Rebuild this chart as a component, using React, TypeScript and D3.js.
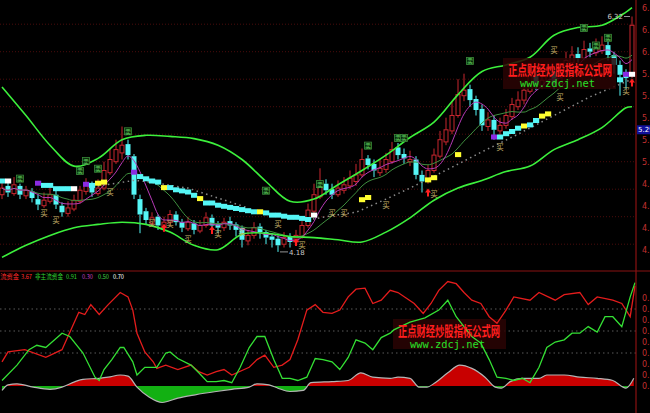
import React from 'react';
import * as d3 from 'd3';

const W = 650;
const H = 413;

// ---- Candles (price) ----
const opens = [
  4.70, 4.78, 4.71, 4.78, 4.69, 4.73, 4.66, 4.60, 4.64, 4.70,
  4.60, 4.53, 4.57, 4.64, 4.73, 4.79, 4.71, 4.76, 4.90, 5.00,
  5.08, 5.16, 5.05, 4.66, 4.55, 4.44, 4.50, 4.40, 4.45, 4.52,
  4.45, 4.39, 4.44, 4.37, 4.42, 4.49, 4.43, 4.40, 4.46, 4.43,
  4.40, 4.28, 4.33, 4.41, 4.36, 4.32, 4.30, 4.25, 4.32, 4.27,
  4.32, 4.42, 4.55, 4.68, 4.80, 4.75, 4.70, 4.74, 4.78, 4.82,
  4.88, 5.03, 4.98, 4.90, 4.93, 5.00, 5.13, 5.07, 5.00, 5.02,
  4.88, 4.83, 4.92, 5.05, 5.18, 5.28, 5.42, 5.60, 5.66, 5.57,
  5.48, 5.32, 5.38, 5.28, 5.33, 5.41, 5.50, 5.56, 5.64, 5.78,
  5.69, 5.73, 5.82, 5.71, 5.82, 5.90, 5.98, 5.94, 6.03, 5.99,
  6.01, 6.06, 5.97, 5.88, 5.80, 5.80,
];
const closes = [
  4.76, 4.72, 4.79, 4.70, 4.74, 4.67, 4.61, 4.65, 4.70, 4.61,
  4.54, 4.58, 4.65, 4.74, 4.79, 4.72, 4.76, 4.92, 5.02, 5.11,
  5.15, 5.06, 4.70, 4.52, 4.47, 4.49, 4.42, 4.45, 4.52, 4.45,
  4.40, 4.45, 4.38, 4.42, 4.49, 4.42, 4.40, 4.45, 4.42, 4.38,
  4.29, 4.33, 4.40, 4.36, 4.31, 4.29, 4.24, 4.31, 4.27, 4.33,
  4.42, 4.56, 4.70, 4.79, 4.74, 4.70, 4.76, 4.79, 4.85, 4.88,
  5.02, 4.97, 4.92, 4.94, 5.02, 5.11, 5.06, 5.03, 5.02, 4.88,
  4.82, 4.92, 5.06, 5.20, 5.29, 5.42, 5.61, 5.65, 5.56, 5.47,
  5.33, 5.38, 5.29, 5.33, 5.42, 5.52, 5.56, 5.65, 5.79, 5.70,
  5.74, 5.83, 5.70, 5.83, 5.92, 5.97, 5.94, 6.02, 6.00, 6.03,
  6.06, 5.97, 5.88, 5.79, 5.76, 6.24,
];
const highs = [
  4.82, 4.82, 4.86, 4.80, 4.78, 4.76, 4.70, 4.72, 4.80, 4.74,
  4.63, 4.64, 4.70, 4.78, 4.85, 4.82, 4.84, 5.00, 5.12, 5.20,
  5.32, 5.20, 5.07, 4.70, 4.58, 4.54, 4.52, 4.50, 4.56, 4.55,
  4.48, 4.50, 4.47, 4.47, 4.54, 4.52, 4.46, 4.49, 4.50, 4.45,
  4.42, 4.38, 4.45, 4.44, 4.38, 4.35, 4.33, 4.36, 4.35, 4.38,
  4.46, 4.62, 4.80, 4.94, 4.84, 4.80, 4.83, 4.86, 4.92, 4.98,
  5.12, 5.06, 5.02, 5.02, 5.08, 5.18, 5.17, 5.12, 5.10, 5.05,
  4.92, 4.97, 5.12, 5.28, 5.40, 5.55, 5.75, 5.80, 5.70, 5.60,
  5.52, 5.45, 5.42, 5.40, 5.48, 5.58, 5.64, 5.72, 5.88, 5.82,
  5.80, 5.90, 5.86, 5.90, 6.00, 6.05, 6.04, 6.10, 6.08, 6.12,
  6.14, 6.10, 6.00, 5.92, 5.84, 6.32,
];
const lows = [
  4.66, 4.68, 4.69, 4.66, 4.66, 4.63, 4.56, 4.58, 4.62, 4.57,
  4.50, 4.50, 4.55, 4.62, 4.70, 4.68, 4.69, 4.74, 4.88, 4.98,
  5.02, 5.02, 4.66, 4.35, 4.43, 4.41, 4.38, 4.37, 4.42, 4.42,
  4.36, 4.37, 4.34, 4.35, 4.40, 4.39, 4.35, 4.37, 4.38, 4.32,
  4.22, 4.24, 4.30, 4.30, 4.25, 4.22, 4.18, 4.22, 4.22, 4.24,
  4.30, 4.40, 4.53, 4.66, 4.70, 4.66, 4.68, 4.71, 4.75, 4.78,
  4.86, 4.93, 4.86, 4.87, 4.90, 4.98, 5.02, 4.98, 4.96, 4.84,
  4.72, 4.80, 4.90, 5.03, 5.15, 5.25, 5.40, 5.55, 5.50, 5.42,
  5.28, 5.28, 5.20, 5.24, 5.30, 5.38, 5.47, 5.52, 5.62, 5.65,
  5.66, 5.70, 5.66, 5.68, 5.80, 5.88, 5.90, 5.92, 5.95, 5.96,
  5.98, 5.92, 5.80, 5.60, 5.66, 5.76,
];

// ---- Channel bands (sampled every 4 bars) ----
const bandIdx = [0, 4, 8, 12, 16, 20, 24, 28, 32, 36, 40, 44, 48, 52, 56, 60, 64, 68, 72, 76, 80, 84, 88, 92, 96, 100, 104, 105];
const upperBand = [5.68, 5.42, 5.15, 4.96, 5.03, 5.20, 5.24, 5.23, 5.21, 5.15, 5.02, 4.82, 4.64, 4.66, 4.79, 4.92, 5.06, 5.22, 5.36, 5.61, 5.82, 5.88, 5.95, 6.15, 6.22, 6.24, 6.36, 6.40];
const lowerBand = [4.13, 4.24, 4.33, 4.40, 4.43, 4.45, 4.43, 4.36, 4.24, 4.20, 4.34, 4.35, 4.32, 4.31, 4.29, 4.27, 4.36, 4.49, 4.65, 4.76, 4.83, 4.91, 4.96, 5.11, 5.20, 5.31, 5.49, 5.50];

// ---- Dotted support lines [barIndex, price] ----
const dottedA = [[16, 4.78], [22, 4.83], [24, 4.82], [31, 4.76], [36, 4.67], [41, 4.58]];
const dottedB = [[51, 4.47], [55, 4.51], [59, 4.54], [64, 4.66], [68, 4.76], [75, 4.95], [80, 5.09], [86, 5.25], [92, 5.42], [98, 5.59], [105, 5.75]];

// ---- Stair blocks [barIndex, price, colour code] ----
const stairBlocks: [number, number, string][] = [
  [0, 4.82, 'c'], [1, 4.82, 'w'],
  [6, 4.80, 'p'], [7, 4.78, 'c'], [8, 4.78, 'c'], [9, 4.75, 'c'], [10, 4.75, 'c'], [11, 4.75, 'c'], [12, 4.75, 'w'],
  [14, 4.79, 'p'], [15, 4.78, 'c'], [16, 4.80, 'y'], [17, 4.81, 'y'],
  [22, 4.90, 'p'], [23, 4.86, 'c'], [24, 4.84, 'c'], [25, 4.82, 'c'], [26, 4.81, 'c'], [27, 4.76, 'y'], [28, 4.76, 'c'],
  [29, 4.74, 'c'], [30, 4.73, 'c'], [31, 4.72, 'c'], [32, 4.69, 'c'], [33, 4.66, 'y'], [34, 4.62, 'c'], [35, 4.62, 'c'],
  [36, 4.60, 'c'], [37, 4.59, 'c'], [38, 4.58, 'c'], [39, 4.57, 'c'], [40, 4.56, 'c'], [41, 4.55, 'c'], [42, 4.54, 'c'],
  [43, 4.54, 'y'], [44, 4.53, 'c'], [45, 4.51, 'c'], [46, 4.51, 'c'], [47, 4.50, 'c'], [48, 4.49, 'c'], [49, 4.49, 'c'],
  [50, 4.48, 'c'], [51, 4.47, 'c'], [52, 4.51, 'w'],
  [60, 4.65, 'y'], [61, 4.67, 'y'], [71, 4.83, 'y'], [72, 4.85, 'y'], [76, 5.06, 'y'],
  [82, 5.22, 'p'], [83, 5.22, 'c'], [84, 5.25, 'c'], [85, 5.27, 'c'], [86, 5.30, 'c'], [87, 5.32, 'y'], [88, 5.33, 'c'],
  [89, 5.37, 'c'], [90, 5.41, 'y'], [91, 5.43, 'y'],
  [103, 5.74, 'c'], [104, 5.79, 'p'], [105, 5.79, 'w'],
];

// ---- Signal markers [barIndex, price] ----
const buyMarks = [[7, 4.51], [9, 4.44], [18, 4.70], [25, 4.42], [28, 4.41], [31, 4.27], [36, 4.32], [40, 4.33], [46, 4.41], [50, 4.22], [55, 4.51], [57, 4.51], [64, 4.58], [72, 4.68], [83, 5.11], [93, 5.56], [92, 5.99], [104, 5.62]];
const greenMarks = [[3, 4.81], [13, 4.88], [14, 4.97], [16, 4.90], [21, 5.24], [44, 4.70], [53, 4.76], [61, 5.11], [66, 5.18], [67, 5.18], [78, 5.88], [97, 6.18], [99, 6.02], [101, 6.09]];
const redArrows = [[27, 4.40], [35, 4.38], [49, 4.27], [71, 4.72], [105, 5.72]];

// ---- Lower panel [barIndex, value] ----
const mainFund = [[0, 0.22], [1, 0.31], [3.8, 0.33], [7.3, 0.26], [10, 0.33], [12.8, 0.67], [13.8, 0.65], [14.8, 0.74], [16.2, 0.65], [17.7, 0.74], [19.7, 0.85], [21, 0.81], [21.8, 0.69], [22.5, 0.48], [23.8, 0.31], [25.2, 0.22], [25.8, 0.16], [27.3, 0.19], [29.3, 0.15], [31.5, 0.19], [32.8, 0.13], [34.2, 0.10], [35.7, 0.13], [37, 0.15], [38.3, 0.10], [41.2, 0.17], [42.5, 0.24], [43.8, 0.28], [45.3, 0.17], [46.7, 0.19], [48, 0.24], [49.3, 0.42], [50.8, 0.69], [52.2, 0.74], [53.5, 0.67], [55, 0.66], [56.3, 0.69], [57.7, 0.81], [59, 0.88], [60.5, 0.89], [61.8, 0.75], [63.2, 0.78], [64.7, 0.87], [66, 0.85], [68.7, 0.75], [70.2, 0.66], [71.5, 0.75], [72.8, 0.87], [74.3, 0.95], [75.7, 0.93], [77, 0.85], [78.3, 0.78], [79.8, 0.75], [81.2, 0.63], [82.5, 0.57], [84, 0.69], [85.3, 0.81], [88, 0.78], [89.5, 0.85], [92.2, 0.78], [93.7, 0.83], [96.3, 0.85], [97.7, 0.74], [99.2, 0.81], [101.8, 0.78], [103.3, 0.75], [104.7, 0.63], [105.5, 0.91]];
const retailFund = [[0, 0.05], [2.5, 0.19], [4.5, 0.33], [5.8, 0.37], [7.3, 0.35], [10, 0.48], [11.3, 0.45], [13.5, 0.30], [15.5, 0.08], [16.2, 0.05], [17, 0.15], [18.3, 0.24], [19.7, 0.35], [20.3, 0.35], [21.8, 0.22], [22.5, 0.10], [23.8, 0.17], [25.8, 0.17], [27.3, 0.30], [28, 0.31], [29.3, 0.25], [31.5, 0.19], [32.8, 0.12], [34.2, 0.04], [35.7, 0.04], [37, 0.05], [38.3, 0.03], [39.7, 0.17], [41.2, 0.35], [42.5, 0.45], [43.8, 0.45], [45.3, 0.24], [46.7, 0.07], [48, 0.07], [49.3, 0.05], [50.8, 0.08], [52.2, 0.25], [53.5, 0.24], [55, 0.22], [56.3, 0.15], [57.7, 0.26], [59, 0.42], [60.5, 0.39], [61.8, 0.33], [63.2, 0.44], [64.7, 0.48], [65.3, 0.51], [68, 0.58], [70.5, 0.62], [72.8, 0.69], [74.3, 0.78], [75.7, 0.63], [77, 0.54], [78.3, 0.45], [79.8, 0.39], [81.2, 0.24], [82.5, 0.08], [84, 0.07], [85.3, 0.05], [86.7, 0.07], [88, 0.03], [89.5, 0.17], [90.8, 0.35], [92.2, 0.40], [93.7, 0.42], [95, 0.48], [96.3, 0.48], [97.7, 0.54], [99.2, 0.49], [100.5, 0.63], [101.8, 0.63], [103.3, 0.54], [104.7, 0.81], [105.5, 0.94]];
const histo = [[0, -0.04], [1, 0.01], [2.5, 0.02], [5.2, -0.01], [8, -0.03], [10, -0.01], [12.2, 0.04], [13.5, 0.06], [16.2, 0.07], [17.7, 0.08], [19.7, 0.10], [21, 0.09], [22.5, -0.01], [24.5, -0.10], [26.7, -0.15], [29.3, -0.11], [32.2, -0.08], [35.7, -0.05], [38.3, -0.03], [41.2, -0.01], [42.5, 0.02], [44.5, 0.01], [46, -0.02], [48, -0.05], [50.2, -0.04], [51.5, 0.03], [55, 0.04], [57.7, 0.05], [59.8, 0.12], [61.8, 0.08], [64.7, 0.07], [66, 0.08], [68, 0.07], [69.5, -0.01], [70.8, -0.01], [72.2, 0.03], [74.3, 0.12], [76.3, 0.19], [78.3, 0.16], [80.5, 0.08], [82.2, -0.01], [83.2, -0.02], [84.7, 0.04], [86.7, 0.07], [89.5, 0.07], [90.8, 0.10], [93.7, 0.10], [96.3, 0.08], [99.2, 0.07], [101.8, 0.05], [104, -0.02], [105.3, 0.07]];

const mainTicks = [4.2, 4.4, 4.6, 4.8, 5.0, 5.2, 5.4, 5.6, 5.8, 6.0, 6.2, 6.4];
const mainGrid = [4.25, 4.5, 4.75, 5.0, 5.25, 5.5, 5.75, 6.0, 6.25];
const lowerTicks = [0, 0.1, 0.2, 0.3, 0.4, 0.5, 0.6, 0.7, 0.8];
const lowerGrid = [0.3, 0.5, 0.7];
const lastPrice = 5.29;
const lowLabel = 4.18;
const highLabel = 6.32;

const stairColor: Record<string, string> = { c: '#55f6f6', w: '#ffffff', p: '#8a2be2', y: '#ffff30' };

const xS = d3.scaleLinear().domain([0, 105]).range([2, 632]);
const yS = d3.scaleLinear().domain([4.0, 6.4]).range([271.7, 7.7]);
const yL = d3.scaleLinear().domain([0, 1]).range([386, 276]);

function movingAvg(arr: number[], n: number): [number, number][] {
  return arr.map((_, i) => [i, d3.mean(arr.slice(Math.max(0, i - n + 1), i + 1)) as number]);
}

export default function App() {
  const bandLine = d3.line<number>().x((_, i) => xS(bandIdx[i])).y((d) => yS(d)).curve(d3.curveCatmullRom);
  const pLine = d3.line<number[]>().x((d) => xS(d[0])).y((d) => yS(d[1]));
  const pLineSmooth = d3.line<number[]>().x((d) => xS(d[0])).y((d) => yS(d[1])).curve(d3.curveMonotoneX);
  const lLine = d3.line<number[]>().x((d) => xS(d[0])).y((d) => yL(d[1]));
  const lLineSmooth = d3.line<number[]>().x((d) => xS(d[0])).y((d) => yL(d[1])).curve(d3.curveMonotoneX);
  const histArea = d3.area<number[]>().x((d) => xS(d[0])).y0(yL(0)).y1((d) => yL(d[1])).curve(d3.curveMonotoneX);

  const ma5 = movingAvg(closes, 5);
  const ma10 = movingAvg(closes, 10);
  const cjk = '"Noto Sans CJK SC", "Noto Sans", sans-serif';
  const zero = yL(0);

  return (
    <svg width={W} height={H} style={{ position: 'fixed', left: 0, top: 0, display: 'block', background: '#000' }}>
      <defs>
        <clipPath id="mainClip"><rect x={0} y={0} width={636} height={270} /></clipPath>
        <clipPath id="lowClip"><rect x={0} y={272} width={636} height={141} /></clipPath>
        <clipPath id="posClip"><rect x={0} y={272} width={636} height={zero - 272} /></clipPath>
        <clipPath id="negClip"><rect x={0} y={zero} width={636} height={H - zero} /></clipPath>
      </defs>
      <rect x={0} y={0} width={W} height={H} fill="#000" />

      {/* grids */}
      {mainGrid.map((g) => (
        <line key={'g' + g} x1={0} x2={636} y1={yS(g)} y2={yS(g)} stroke="#4a0c0c" strokeDasharray="1,2" />
      ))}
      {lowerGrid.map((g) => (
        <line key={'lg' + g} x1={0} x2={636} y1={yL(g)} y2={yL(g)} stroke="#5a5a5a" strokeDasharray="1.5,3" />
      ))}

      <g clipPath="url(#mainClip)">
        {/* candles */}
        {closes.map((c, i) => {
          const o = opens[i];
          const up = c >= o;
          const col = up ? '#c8262e' : '#55f6f6';
          const x = xS(i);
          const top = yS(Math.max(o, c));
          const bot = yS(Math.min(o, c));
          return (
            <g key={'c' + i}>
              <line x1={x} x2={x} y1={yS(highs[i])} y2={top} stroke={col} strokeWidth={1} />
              <line x1={x} x2={x} y1={bot} y2={yS(lows[i])} stroke={col} strokeWidth={1} />
              {up ? (
                <rect x={x - 2} y={top} width={4} height={Math.max(1, bot - top)} fill="#000" stroke={col} strokeWidth={1} />
              ) : (
                <rect x={x - 2.5} y={top} width={5} height={Math.max(1, bot - top)} fill={col} />
              )}
            </g>
          );
        })}

        {/* moving averages */}
        <path d={pLineSmooth(ma10) || ''} fill="none" stroke="#3f8f3f" strokeWidth={1} />
        <path d={pLineSmooth(ma5) || ''} fill="none" stroke="#b83ab8" strokeWidth={1} />

        {/* bands */}
        <path d={bandLine(upperBand) || ''} fill="none" stroke="#3cf03c" strokeWidth={1.6} />
        <path d={bandLine(lowerBand) || ''} fill="none" stroke="#3cf03c" strokeWidth={1.6} />

        {/* dotted lines */}
        <path d={pLine(dottedA) || ''} fill="none" stroke="#8c8c8c" strokeWidth={1.5} strokeDasharray="1.5,3.5" />
        <path d={pLine(dottedB) || ''} fill="none" stroke="#8c8c8c" strokeWidth={1.5} strokeDasharray="1.5,3.5" />

        {/* stair blocks */}
        {stairBlocks.map(([i, v, k]) => (
          <rect key={'s' + i} x={xS(i) - 3} y={yS(v) - 3} width={6.2} height={5} fill={stairColor[k]} />
        ))}

        {/* markers */}
        {buyMarks.map(([i, v], k) => (
          <text key={'b' + k} x={xS(i)} y={yS(v)} fontSize={7.5} fill="#c9b46c" textAnchor="middle" fontFamily={cjk}>买</text>
        ))}
        {greenMarks.map(([i, v], k) => (
          <g key={'gm' + k}>
            <rect x={xS(i) - 3.5} y={yS(v) - 7.5} width={7} height={7} fill="#0b2a0b" stroke="#3a8a3a" strokeWidth={0.8} />
            <text x={xS(i)} y={yS(v) - 1.5} fontSize={6} fill="#5ed05e" textAnchor="middle" fontFamily={cjk}>卖</text>
          </g>
        ))}
        {redArrows.map(([i, v], k) => (
          <path key={'ra' + k} transform={`translate(${xS(i)},${yS(v)})`} d="M0,-4 L3,0 L1,0 L1,4 L-1,4 L-1,0 L-3,0 Z" fill="#ff2020" />
        ))}

        {/* low / high labels */}
        <line x1={xS(46) + 2} x2={xS(46) + 10} y1={yS(lowLabel)} y2={yS(lowLabel)} stroke="#bbbbbb" strokeWidth={0.8} />
        <text x={xS(46) + 11} y={yS(lowLabel) + 3} fontSize={7} fill="#cccccc" fontFamily="DejaVu Sans, sans-serif">{lowLabel.toFixed(2)}</text>
        <line x1={xS(105) - 8} x2={xS(105) - 2} y1={yS(highLabel)} y2={yS(highLabel)} stroke="#bbbbbb" strokeWidth={0.8} />
        <text x={xS(105) - 9} y={yS(highLabel) + 2.5} fontSize={7} fill="#cccccc" textAnchor="end" fontFamily="DejaVu Sans, sans-serif">{highLabel.toFixed(2)}</text>

        {/* watermark */}
        <rect x={503} y={58} width={113} height={31} fill="#2a0303" opacity={0.85} />
        <text x={508} y={75} fontSize={14} fontWeight="bold" fill="#ff1e1e" fontFamily={cjk} textLength={104} lengthAdjust="spacingAndGlyphs">正点财经炒股指标公式网</text>
        <text x={520} y={87} fontSize={10} fill="#28e028" fontFamily="DejaVu Sans Mono, monospace" textLength={75} lengthAdjust="spacingAndGlyphs">www.zdcj.net</text>
      </g>

      {/* lower panel */}
      <g clipPath="url(#lowClip)">
        <path d={histArea(histo) || ''} fill="#c80000" clipPath="url(#posClip)" />
        <path d={histArea(histo) || ''} fill="#12b012" clipPath="url(#negClip)" />
        <path d={lLineSmooth(histo) || ''} fill="none" stroke="#b4b4b4" strokeWidth={1.2} />
        <rect x={393} y={319} width={113} height={30} fill="#2a0303" opacity={0.85} />
        <path d={lLine(mainFund) || ''} fill="none" stroke="#e41c1c" strokeWidth={1.3} />
        <path d={lLine(retailFund) || ''} fill="none" stroke="#34e034" strokeWidth={1.3} />
        <text x={398} y={336} fontSize={14} fontWeight="bold" fill="#ff1e1e" fontFamily={cjk} textLength={102} lengthAdjust="spacingAndGlyphs">正点财经炒股指标公式网</text>
        <text x={410} y={348} fontSize={10} fill="#28e028" fontFamily="DejaVu Sans Mono, monospace" textLength={75} lengthAdjust="spacingAndGlyphs">www.zdcj.net</text>
      </g>

      {/* frame lines */}
      <line x1={0} x2={W} y1={271} y2={271} stroke="#8a1212" strokeWidth={1.2} />
      <line x1={636} x2={636} y1={0} y2={H} stroke="#8a1212" strokeWidth={1.2} />

      {/* right axis labels */}
      {mainTicks.map((t) => (
        <text key={'mt' + t} x={642} y={yS(t) + 3} fontSize={8} fill="#c03030" fontFamily="DejaVu Sans, sans-serif">{t.toFixed(2)}</text>
      ))}
      {lowerTicks.map((t) => (
        <text key={'lt' + t} x={642} y={yL(t) + 3} fontSize={8} fill="#c03030" fontFamily="DejaVu Sans, sans-serif">{t.toFixed(2)}</text>
      ))}
      <rect x={637} y={yS(lastPrice) - 4.5} width={14} height={9} fill="#10109a" />
      <text x={638} y={yS(lastPrice) + 2.5} fontSize={7} fill="#ffffff" fontFamily="DejaVu Sans, sans-serif">{lastPrice.toFixed(2)}</text>

      {/* lower panel header */}
      <g fontSize={6.5} fontFamily={cjk}>
        <text x={-6} y={279} fill="#ff2a2a" textLength={25} lengthAdjust="spacingAndGlyphs">主流资金</text>
        <text x={21} y={279} fill="#ff2a2a" textLength={11} lengthAdjust="spacingAndGlyphs">3.67</text>
        <text x={35} y={279} fill="#30d030" textLength={28} lengthAdjust="spacingAndGlyphs">非主流资金</text>
        <text x={66} y={279} fill="#30d030" textLength={11} lengthAdjust="spacingAndGlyphs">0.91</text>
        <text x={82} y={279} fill="#c040c0" textLength={11} lengthAdjust="spacingAndGlyphs">0.30</text>
        <text x={98} y={279} fill="#40d040" textLength={11} lengthAdjust="spacingAndGlyphs">0.50</text>
        <text x={113} y={279} fill="#ffffff" textLength={11} lengthAdjust="spacingAndGlyphs">0.70</text>
      </g>
    </svg>
  );
}
